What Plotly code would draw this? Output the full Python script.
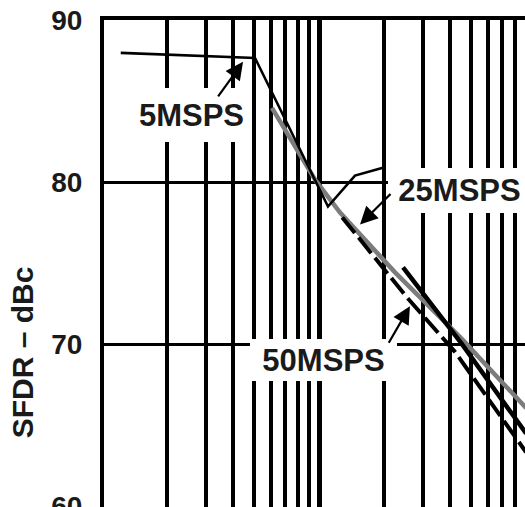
import math
import plotly.graph_objects as go

# ---- data ----
freq_5 = [1.22, 5.07, 11.0, 14.65, 19.7]
sfdr_5 = [87.97, 87.66, 78.49, 80.40, 80.89]

freq_25 = [6.07, 9.59, 12.5, 22.4, 45.6, 90.0]
sfdr_25 = [84.58, 80.15, 78.12, 74.43, 70.31, 66.06]

freq_50_solid = [24.4, 45.6, 90.0]
sfdr_50_solid = [74.74, 70.0, 64.49]

freq_50_dash = [12.8, 25.4, 42.4, 90.0]
sfdr_50_dash = [77.82, 72.89, 69.51, 63.33]

y_ticks = [60, 70, 80, 90]
y_title = "SFDR – dBc"

labels = ["5MSPS", "25MSPS", "50MSPS"]
# label box centres (log10 f, dBc) and box sizes (px)
label_x = [0.4124, 1.6475, 1.0207]
label_y = [84.15, 79.51, 69.02]
label_w = [117, 143, 147]
label_h = [54, 45, 42]
# arrow tips (log10 f, dBc) and tail offsets (px)
arrow_x = [0.650, 1.189, 1.419]
arrow_y = [87.42, 77.38, 72.34]
arrow_ax = [-26, 32, -22]
arrow_ay = [36, -32, 38]

TXT = "#1a1a1a"
FONT = "Liberation Sans, Arial, sans-serif"

L, T = 104, 20
W, H = 525, 507
px_per_dec = 217.0
x0 = (L - 102) / px_per_dec
x1 = (W - 102) / px_per_dec

fig = go.Figure()
fig.add_trace(go.Scatter(x=freq_25, y=sfdr_25, mode="lines",
                         line=dict(color="#7c7c7c", width=4.5), name="25MSPS"))
fig.add_trace(go.Scatter(x=freq_50_dash, y=sfdr_50_dash, mode="lines",
                         line=dict(color="black", width=4, dash="20px,6px"), name="50MSPS"))
fig.add_trace(go.Scatter(x=freq_50_solid, y=sfdr_50_solid, mode="lines",
                         line=dict(color="black", width=4.5), name="50MSPS solid"))
fig.add_trace(go.Scatter(x=freq_5, y=sfdr_5, mode="lines",
                         line=dict(color="black", width=2.6), name="5MSPS"))

for i, t in enumerate(labels):
    fig.add_annotation(x=label_x[i], y=label_y[i], xref="x", yref="y", text=t,
                       showarrow=False, bgcolor="white", width=label_w[i], height=label_h[i],
                       borderpad=0, borderwidth=0,
                       font=dict(family=FONT, size=31, color=TXT, weight="bold"))
    fig.add_annotation(x=arrow_x[i], y=arrow_y[i], xref="x", yref="y", text="",
                       showarrow=True, ax=arrow_ax[i], ay=arrow_ay[i],
                       arrowhead=2, arrowsize=1.6, arrowwidth=2.2, arrowcolor="black",
                       standoff=0, startstandoff=0)

fig.add_annotation(x=(22 - L) / (W - L), y=69.5, xref="paper", yref="y",
                   xanchor="center", yanchor="middle",
                   text=y_title, textangle=-90, showarrow=False,
                   font=dict(family=FONT, size=30, color=TXT, weight="bold"))

fig.update_xaxes(type="log", range=[x0, x1], side="top", automargin=False,
                 showline=True, linewidth=4, linecolor="black",
                 showgrid=True, gridcolor="black", gridwidth=5, dtick=1,
                 minor=dict(dtick="D1", showgrid=True, gridcolor="black", gridwidth=3.5),
                 showticklabels=False, ticks="", zeroline=False, fixedrange=True)
fig.update_yaxes(range=[59.95, 90], tickvals=y_ticks, automargin=False,
                 showline=True, linewidth=4, linecolor="black",
                 showgrid=True, gridcolor="black", gridwidth=3,
                 ticks="outside", ticklen=12, tickcolor="rgba(0,0,0,0)",
                 ticklabeloverflow="allow",
                 tickfont=dict(family=FONT, size=28, color=TXT, weight="bold"),
                 zeroline=False, fixedrange=True)

fig.update_layout(width=W, height=H, margin=dict(l=L, r=0, t=T, b=0, pad=0, autoexpand=False),
                  paper_bgcolor="white", plot_bgcolor="white", showlegend=False)

fig.write_html("out.html")
